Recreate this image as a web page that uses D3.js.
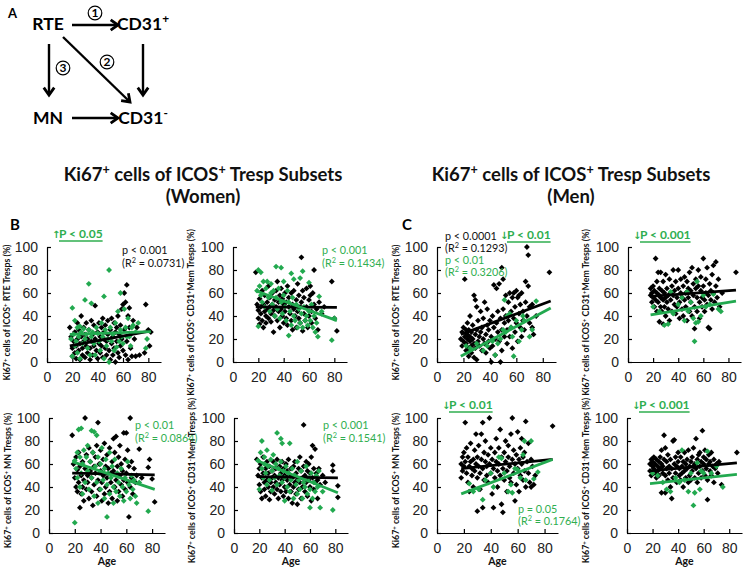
<!DOCTYPE html>
<html><head><meta charset="utf-8">
<script src="https://cdn.jsdelivr.net/npm/d3@7"></script>
<style>body{margin:0;background:#fff}</style>
</head><body>
<svg id="fig" width="749" height="573" xmlns="http://www.w3.org/2000/svg"></svg>
<script>
// ---------- tick labels / domains ----------
const yTicks = [0, 20, 40, 60, 80, 100];
const xTicks = [0, 20, 40, 60, 80];
const xDomain = [0, 90];
const yDomain = [0, 100];

// ---------- Women: RTE ----------
const wRTEBlack = [[18,30],[19,22],[20,12],[20,5],[21,18],[22,26],[22,8],[23,14],[23,3],[24,20],[24,34],[25,10],[25,28],[26,16],[26,2],[27,40],[27,22],[28,12],[28,6],[29,30],[29,18],[30,24],[30,4],[31,14],[31,34],[32,8],[32,20],[33,28],[34,12],[34,2],[35,36],[35,18],[36,24],[36,6],[37,32],[37,14],[38,49],[38,20],[39,10],[40,26],[40,3],[41,16],[41,34],[42,22],[42,8],[43,30],[43,14],[44,38],[44,4],[45,20],[45,26],[46,12],[46,32],[47,6],[47,18],[48,36],[48,24],[49,10],[50,28],[50,2],[51,16],[51,38],[52,22],[52,6],[53,34],[53,12],[54,0],[54,26],[55,18],[55,30],[56,8],[56,40],[57,24],[57,4],[58,14],[58,32],[59,20],[59,46],[60,50],[60,10],[61,60],[61,28],[62,52],[62,6],[63,67],[63,18],[64,40],[64,2],[65,47],[65,30],[66,12],[66,24],[67,5],[68,36],[69,20],[70,5],[71,30],[73,6],[77,8],[78,50],[80,28],[81,14],[82,26]];
const wRTEGreen = [[19,20],[20,47],[20,5],[21,24],[22,36],[22,14],[23,18],[24,30],[24,8],[25,22],[26,31],[26,3],[27,26],[28,16],[29,29],[30,54],[30,20],[31,24],[32,12],[33,68],[33,28],[34,6],[35,51],[35,22],[36,26],[37,16],[38,6],[39,30],[40,25],[41,18],[42,10],[43,34],[44,22],[45,57],[45,3],[46,28],[47,14],[48,20],[49,80],[49,0],[50,30],[51,18],[52,24],[53,10],[54,34],[55,13],[56,44],[57,18],[58,60],[58,28],[59,22],[60,16],[61,46],[62,30],[63,22],[64,38],[65,22],[66,14],[67,30],[68,32],[70,26],[72,34],[78,12],[79,20]];
const wRTEFitBlack = [[18,14],[82,27]];
const wRTEFitGreen = [[18,24],[82,26.5]];

// ---------- Women: CD31+ Mem ----------
const wCDpBlack = [[18,78],[19,50],[20,45],[20,38],[21,55],[21,33],[22,48],[22,42],[23,36],[23,62],[24,50],[24,30],[25,44],[25,58],[26,40],[26,34],[27,52],[27,46],[28,38],[28,66],[29,48],[29,56],[30,42],[30,35],[31,60],[31,50],[32,26],[32,45],[33,54],[33,40],[34,48],[34,62],[35,36],[35,70],[36,52],[36,44],[37,58],[37,30],[38,46],[38,64],[39,40],[39,55],[40,50],[40,34],[41,60],[41,44],[42,38],[42,52],[43,66],[43,32],[44,48],[44,56],[45,42],[46,60],[46,36],[47,50],[47,28],[48,46],[48,62],[49,40],[50,54],[50,30],[51,44],[51,68],[52,38],[52,58],[53,48],[53,34],[54,91],[54,52],[55,27],[55,62],[56,42],[56,56],[57,36],[58,64],[58,48],[59,30],[60,54],[60,40],[61,58],[61,66],[62,44],[62,34],[63,60],[64,80],[64,50],[65,38],[66,46],[67,28],[68,52],[70,42],[72,48],[78,70],[80,38],[82,27]];
const wCDpGreen = [[19,62],[20,80],[20,31],[21,66],[22,78],[22,58],[23,52],[24,70],[25,48],[26,64],[27,70],[28,56],[29,44],[30,68],[30,60],[31,50],[32,62],[33,40],[34,83],[34,56],[35,46],[36,64],[37,38],[38,82],[38,52],[39,42],[40,70],[40,58],[41,48],[42,36],[43,62],[44,23],[44,52],[45,44],[46,77],[46,32],[47,56],[48,72],[48,40],[49,36],[50,50],[51,30],[52,46],[53,73],[53,34],[54,42],[55,79],[55,30],[56,48],[57,36],[58,40],[59,32],[60,69],[60,44],[61,36],[62,50],[63,30],[64,40],[65,26],[66,34],[67,22],[68,57],[70,44],[78,19],[80,38]];
const wCDpFitBlack = [[18,48],[82,47.5]];
const wCDpFitGreen = [[18,62],[82,36]];

// ---------- Women: MN ----------
const wMNBlack = [[18,85],[19,60],[20,48],[21,66],[21,40],[22,55],[22,36],[23,70],[23,44],[24,22],[24,58],[25,50],[25,34],[26,62],[26,40],[27,46],[27,28],[28,100],[28,56],[29,38],[29,68],[30,50],[30,44],[31,74],[31,30],[32,54],[32,62],[33,36],[33,48],[34,70],[34,24],[35,58],[35,42],[36,66],[36,52],[37,32],[37,76],[38,96],[38,46],[39,60],[39,38],[40,72],[40,54],[41,44],[41,28],[42,64],[42,50],[43,34],[43,78],[44,58],[44,40],[45,48],[45,68],[46,26],[46,56],[47,74],[47,36],[48,52],[48,44],[49,62],[49,30],[50,82],[50,54],[51,40],[51,70],[52,84],[52,46],[53,58],[53,28],[54,66],[54,36],[55,50],[55,76],[56,42],[56,60],[57,32],[57,54],[58,87],[58,46],[59,64],[59,38],[60,87],[60,52],[61,44],[61,72],[62,14],[62,58],[63,100],[63,40],[64,62],[64,48],[65,34],[66,56],[67,44],[68,50],[70,73],[72,48],[77,57],[78,64],[80,47],[82,27]];
const wMNGreen = [[20,9],[20,63],[21,56],[22,70],[22,48],[23,90],[24,66],[24,40],[25,91],[25,52],[26,60],[26,34],[27,72],[28,44],[29,66],[30,54],[30,76],[31,38],[32,62],[33,89],[33,48],[34,70],[35,88],[35,32],[36,58],[37,85],[37,44],[38,66],[38,26],[39,52],[40,60],[40,38],[41,74],[42,46],[43,56],[43,30],[44,64],[45,14],[45,42],[46,52],[47,70],[47,34],[48,48],[49,58],[50,40],[50,26],[51,64],[52,36],[53,52],[54,44],[55,32],[56,56],[57,40],[58,28],[59,48],[60,36],[61,62],[62,42],[63,30],[64,50],[65,38],[66,46],[67,32],[68,26],[70,44],[77,19]];
const wMNFitBlack = [[18,52],[82,50.5]];
const wMNFitGreen = [[18,62],[82,38]];

// ---------- Women: CD31- Mem ----------
const wCDmBlack = [[18,64],[19,50],[20,42],[20,56],[21,36],[21,60],[22,48],[22,30],[23,52],[23,66],[24,38],[24,44],[25,56],[25,32],[26,46],[26,62],[27,40],[27,52],[28,29],[28,58],[29,44],[29,36],[30,54],[30,48],[31,40],[31,62],[32,34],[32,50],[33,56],[33,44],[34,38],[34,64],[35,48],[35,30],[36,58],[36,42],[37,52],[37,36],[38,62],[38,46],[39,32],[39,56],[40,40],[40,50],[41,60],[41,36],[42,46],[42,54],[43,30],[43,64],[44,42],[44,50],[45,56],[45,36],[46,26],[46,48],[47,58],[47,40],[48,44],[48,62],[49,34],[49,52],[50,46],[50,25],[51,56],[51,38],[52,66],[52,44],[53,30],[53,54],[54,48],[54,40],[55,94],[55,58],[56,36],[56,50],[57,62],[57,44],[58,32],[58,54],[59,46],[59,60],[60,40],[60,52],[61,66],[61,28],[62,76],[62,48],[63,56],[63,38],[64,73],[64,44],[65,52],[66,30],[66,46],[67,56],[68,42],[70,50],[72,44],[78,59],[78,54],[82,41],[82,31]];
const wCDmGreen = [[19,63],[20,38],[21,70],[22,80],[22,56],[23,48],[24,66],[24,60],[25,52],[26,72],[26,42],[27,58],[28,46],[29,64],[30,37],[30,54],[31,68],[32,48],[33,60],[34,87],[34,42],[35,56],[36,50],[37,82],[37,62],[38,78],[38,44],[39,54],[40,28],[40,48],[41,58],[42,40],[43,52],[44,78],[44,36],[45,46],[46,56],[47,30],[48,50],[49,42],[50,62],[50,34],[51,46],[52,38],[53,54],[54,30],[55,44],[56,40],[57,58],[58,34],[59,48],[60,22],[60,38],[61,52],[62,30],[63,44],[64,36],[65,50],[66,40],[67,54],[68,22],[70,36],[78,20]];
const wCDmFitBlack = [[18,49],[82,48]];
const wCDmFitGreen = [[18,63],[82,35]];

// ---------- Men: RTE ----------
const mRTEBlack = [[18,20],[19,14],[19,26],[20,18],[20,30],[21,22],[21,72],[22,16],[22,28],[22,10],[23,24],[23,34],[23,20],[24,12],[24,28],[24,5],[25,22],[25,18],[25,40],[26,14],[26,26],[26,8],[27,20],[27,32],[28,16],[28,4],[28,58],[29,24],[29,54],[29,12],[30,28],[30,2],[30,48],[31,18],[31,36],[32,22],[32,14],[33,44],[33,26],[34,10],[34,30],[35,38],[35,20],[36,16],[36,52],[37,24],[37,8],[38,32],[38,46],[39,18],[39,28],[40,36],[40,12],[41,0],[41,22],[42,40],[42,14],[43,67],[43,30],[44,20],[44,6],[45,64],[45,34],[46,26],[46,44],[47,68],[47,18],[48,0],[48,38],[49,82],[49,28],[49,10],[50,72],[50,46],[51,22],[51,34],[52,58],[52,40],[53,16],[53,28],[54,52],[54,36],[55,60],[55,22],[56,44],[56,30],[57,56],[57,12],[58,60],[58,38],[59,26],[59,48],[60,62],[60,34],[61,56],[61,18],[62,58],[62,42],[63,30],[63,50],[64,60],[64,22],[65,44],[65,36],[66,28],[67,70],[67,52],[68,100],[68,40],[69,93],[69,66],[70,34],[70,48],[72,50],[72,30],[73,24],[75,40],[85,78]];
const mRTEGreen = [[22,14],[25,12],[30,16],[35,10],[38,14],[42,18],[44,6],[46,16],[48,20],[50,28],[51,54],[52,26],[53,40],[55,42],[56,30],[57,22],[58,5],[60,36],[62,18],[64,28],[65,40],[66,36],[70,22],[72,28],[75,53]];
const mRTEFitBlack = [[18,24],[86,53]];
const mRTEFitGreen = [[18,5],[86,47]];

// ---------- Men: CD31+ Mem ----------
const mCDpBlack = [[18,58],[18,64],[19,52],[19,60],[20,56],[20,66],[21,48],[21,62],[22,90],[22,54],[23,44],[23,60],[23,70],[24,52],[24,78],[25,35],[25,58],[25,64],[26,48],[26,56],[26,78],[27,62],[27,44],[28,33],[28,54],[28,70],[29,60],[29,48],[30,76],[30,56],[30,40],[31,64],[31,52],[32,58],[32,46],[33,72],[33,36],[34,60],[34,54],[35,66],[35,44],[36,58],[36,80],[37,50],[37,62],[38,42],[38,70],[39,56],[39,48],[40,64],[40,80],[41,52],[41,38],[42,60],[42,72],[43,46],[43,56],[44,66],[44,40],[45,54],[45,74],[46,60],[46,48],[47,70],[47,36],[48,56],[48,64],[49,44],[49,78],[50,52],[50,62],[51,82],[51,40],[52,58],[52,68],[53,29],[53,48],[54,64],[54,72],[55,56],[55,44],[56,66],[56,80],[57,52],[57,38],[58,62],[58,74],[59,48],[59,56],[60,90],[60,66],[61,54],[61,44],[62,72],[62,60],[63,50],[63,82],[64,30],[64,58],[65,29],[65,68],[66,54],[66,62],[67,76],[67,46],[68,60],[68,84],[69,52],[70,87],[70,66],[71,56],[72,72],[73,48],[75,60],[86,78]];
const mCDpGreen = [[20,48],[25,44],[29,32],[32,33],[34,61],[36,42],[40,50],[43,56],[45,36],[47,61],[48,44],[50,52],[52,38],[53,18],[54,34],[55,70],[56,35],[58,40],[60,58],[62,48],[65,50],[68,59],[72,46],[74,44]];
const mCDpFitBlack = [[18,57],[86,62.5]];
const mCDpFitGreen = [[18,41],[86,53]];

// ---------- Men: MN ----------
const mMNBlack = [[18,60],[18,48],[19,66],[19,54],[20,70],[20,58],[21,96],[21,62],[22,52],[22,74],[23,44],[23,66],[24,58],[24,36],[25,62],[25,78],[26,50],[26,56],[27,64],[27,40],[28,72],[28,54],[29,86],[29,60],[30,19],[30,48],[30,66],[31,58],[31,76],[32,52],[32,38],[33,64],[33,86],[34,96],[34,22],[34,56],[35,70],[35,46],[36,62],[36,80],[37,50],[37,58],[38,44],[38,68],[39,100],[39,60],[40,74],[40,52],[41,34],[41,64],[42,22],[42,56],[43,70],[43,48],[44,62],[44,82],[45,54],[45,40],[46,74],[46,60],[47,90],[47,50],[48,25],[48,66],[49,18],[49,56],[50,70],[50,46],[51,62],[51,80],[52,54],[52,36],[53,66],[53,76],[54,48],[54,58],[55,86],[55,44],[56,100],[56,64],[57,52],[57,72],[58,28],[58,60],[59,68],[59,42],[60,56],[60,88],[61,64],[61,36],[62,74],[62,50],[63,60],[63,82],[64,46],[64,66],[65,70],[65,54],[66,97],[66,40],[67,62],[68,78],[68,52],[69,44],[70,40],[70,64],[71,58],[72,42],[73,50],[86,93]];
const mMNGreen = [[24,43],[27,36],[31,38],[34,29],[36,46],[40,52],[42,40],[46,66],[48,65],[50,52],[53,36],[55,42],[56,35],[58,56],[60,55],[62,48],[64,68],[65,80],[66,46],[70,80],[72,47],[75,53]];
const mMNFitBlack = [[18,56],[86,64]];
const mMNFitGreen = [[18,34],[86,64]];

// ---------- Men: CD31- Mem ----------
const mCDmBlack = [[18,60],[18,54],[19,64],[19,50],[20,58],[20,62],[21,56],[21,66],[22,52],[22,60],[23,64],[23,48],[24,58],[24,54],[25,62],[25,50],[26,56],[26,66],[27,35],[27,60],[27,72],[28,52],[28,58],[29,85],[29,64],[30,35],[30,50],[30,74],[31,56],[31,62],[32,46],[32,68],[33,58],[33,52],[34,40],[34,64],[35,30],[35,56],[36,80],[36,48],[37,81],[37,60],[38,66],[38,52],[39,44],[39,58],[40,62],[40,70],[41,50],[41,56],[42,66],[42,46],[43,58],[43,52],[44,40],[44,62],[45,54],[45,70],[46,48],[46,60],[47,56],[47,64],[48,44],[48,72],[49,58],[49,50],[50,62],[50,46],[51,66],[51,54],[52,58],[52,74],[53,48],[53,60],[54,82],[54,56],[55,64],[55,44],[56,52],[56,68],[57,58],[57,70],[58,48],[58,62],[59,89],[59,54],[60,66],[60,60],[61,50],[61,72],[62,56],[62,64],[63,29],[63,46],[64,60],[64,68],[65,54],[65,62],[66,50],[66,70],[67,58],[68,44],[68,64],[69,56],[70,60],[71,52],[72,62],[74,42],[86,70]];
const mCDmGreen = [[20,52],[24,50],[28,44],[31,38],[34,36],[38,48],[41,44],[43,72],[45,46],[48,36],[50,52],[52,24],[53,35],[55,61],[57,38],[58,54],[60,52],[63,71],[66,52],[70,58],[75,40]];
const mCDmFitBlack = [[18,54],[86,61]];
const mCDmFitGreen = [[18,43],[86,51]];

// ---------- style ----------
const GREEN = "#22a94f";
const GREEN_T = "#2fae4f";
const FC = "Lato, 'Open Sans', sans-serif";
const FA = "'Liberation Sans', Arial, sans-serif";
const svg = d3.select('#fig');

function rich(sel, str) {
  str.split(/(\^[+\-2])/).forEach(p => {
    if (!p) return;
    if (p[0] === '^') {
      sel.append('tspan').attr('baseline-shift', 'super').attr('font-size', '68%')
        .text(p[1] === '-' ? '-' : p[1]);
    } else sel.append('tspan').text(p);
  });
  return sel;
}

// ---------- Panel A diagram ----------
const A = svg.append('g');
A.append('text').attr('x', 8).attr('y', 18).attr('font-family', FC).attr('font-weight', 700)
  .attr('font-size', 13).text('A');
const nodes = [
  {t: 'RTE', x: 48, y: 30}, {t: 'CD31^+', x: 143, y: 30},
  {t: 'MN', x: 48, y: 124}, {t: 'CD31^-', x: 143, y: 124}
];
nodes.forEach(n => rich(A.append('text').attr('x', n.x).attr('y', n.y).attr('text-anchor', 'middle')
  .attr('font-family', FC).attr('font-weight', 700).attr('font-size', 17.5), n.t));
function arrow(x1, y1, x2, y2) {
  A.append('line').attr('x1', x1).attr('y1', y1).attr('x2', x2).attr('y2', y2)
    .attr('stroke', '#000').attr('stroke-width', 2.4);
  const ang = Math.atan2(y2 - y1, x2 - x1), L = 9, w = 0.62;
  const pts = [[x2 - L * Math.cos(ang - w), y2 - L * Math.sin(ang - w)], [x2, y2],
               [x2 - L * Math.cos(ang + w), y2 - L * Math.sin(ang + w)]];
  A.append('path').attr('d', d3.line()(pts)).attr('fill', 'none').attr('stroke', '#000')
    .attr('stroke-width', 2.8).attr('stroke-linejoin', 'miter');
}
arrow(72, 25, 118, 25);
arrow(49, 44, 49, 95);
arrow(63, 37, 130, 102);
arrow(143, 44, 143, 95);
arrow(72, 118, 118, 118);
[[95, 13, '1'], [107, 62, '2'], [63, 68, '3']].forEach(c => {
  A.append('circle').attr('cx', c[0]).attr('cy', c[1]).attr('r', 6.8).attr('fill', '#fff')
    .attr('stroke', '#000').attr('stroke-width', 1.2);
  A.append('text').attr('x', c[0]).attr('y', c[1] + 4.3).attr('text-anchor', 'middle')
    .attr('font-family', FC).attr('font-weight', 700).attr('font-size', 12).text(c[2]);
});

// ---------- titles ----------
[[203, 'Women'], [571, 'Men']].forEach(t => {
  const g = svg.append('g').attr('font-family', FC).attr('font-weight', 700)
    .attr('font-size', 18.5).attr('text-anchor', 'middle').attr('fill', '#111');
  rich(g.append('text').attr('x', t[0]).attr('y', 181), 'Ki67^+ cells of ICOS^+ Tresp Subsets');
  g.append('text').attr('x', t[0]).attr('y', 203).text('(' + t[1] + ')');
});
svg.append('text').attr('x', 10).attr('y', 230).attr('font-family', FC).attr('font-weight', 700)
  .attr('font-size', 15).text('B');
svg.append('text').attr('x', 402).attr('y', 230).attr('font-family', FC).attr('font-weight', 700)
  .attr('font-size', 15).text('C');

// ---------- scatter panels ----------
const panels = [
  {x0: 47, x1: 161, y0: 362, y1: 247, labX: 6, lab: 'RTE Tresps (%)', blk: wRTEBlack, grn: wRTEGreen, fb: wRTEFitBlack, fg: wRTEFitGreen, age: false,
   notes: [{x: 122, y: 254, t: 'p < 0.001', c: '#111'}, {x: 122, y: 267, t: '(R^2 = 0.0731)', c: '#111'}],
   sig: {x: 52, y: 238, t: 'P < 0.05', up: true}},
  {x0: 233, x1: 347, y0: 362, y1: 247, labX: 190, lab: 'CD31^+Mem Tresps (%)', blk: wCDpBlack, grn: wCDpGreen, fb: wCDpFitBlack, fg: wCDpFitGreen, age: false,
   notes: [{x: 322, y: 254, t: 'p < 0.001', c: GREEN_T}, {x: 322, y: 267, t: '(R^2 = 0.1434)', c: GREEN_T}]},
  {x0: 49, x1: 165, y0: 533, y1: 418, labX: 7, lab: 'MN Tresps (%)', blk: wMNBlack, grn: wMNGreen, fb: wMNFitBlack, fg: wMNFitGreen, age: true,
   notes: [{x: 135, y: 429, t: 'p < 0.01', c: GREEN_T}, {x: 135, y: 442, t: '(R^2 = 0.0864)', c: GREEN_T}]},
  {x0: 234, x1: 348, y0: 533, y1: 418, labX: 191, lab: 'CD31^-Mem Tresps (%)', blk: wCDmBlack, grn: wCDmGreen, fb: wCDmFitBlack, fg: wCDmFitGreen, age: true,
   notes: [{x: 323, y: 429, t: 'p < 0.001', c: GREEN_T}, {x: 323, y: 442, t: '(R^2 = 0.1541)', c: GREEN_T}]},
  {x0: 437, x1: 556, y0: 362, y1: 247, labX: 395, lab: 'RTE Tresps (%)', blk: mRTEBlack, grn: mRTEGreen, fb: mRTEFitBlack, fg: mRTEFitGreen, age: false,
   notes: [{x: 445, y: 240, t: 'p < 0.0001', c: '#111'}, {x: 445, y: 252, t: '(R^2 = 0.1293)', c: '#111'},
           {x: 445, y: 264, t: 'p < 0.01', c: GREEN_T}, {x: 445, y: 276, t: '(R^2 = 0.3206)', c: GREEN_T}],
   sig: {x: 500, y: 239, t: 'P < 0.01', up: false}},
  {x0: 628, x1: 741, y0: 362, y1: 247, labX: 585, lab: 'CD31^+Mem Tresps (%)', blk: mCDpBlack, grn: mCDpGreen, fb: mCDpFitBlack, fg: mCDpFitGreen, age: false,
   notes: [], sig: {x: 633, y: 239, t: 'P < 0.001', up: false}},
  {x0: 437, x1: 558, y0: 533, y1: 418, labX: 395, lab: 'MN Tresps (%)', blk: mMNBlack, grn: mMNGreen, fb: mMNFitBlack, fg: mMNFitGreen, age: true,
   notes: [{x: 518, y: 513, t: 'p = 0.05', c: GREEN_T}, {x: 518, y: 525, t: '(R^2 = 0.1764)', c: GREEN_T}],
   sig: {x: 442, y: 409, t: 'P < 0.01', up: false}},
  {x0: 627, x1: 742, y0: 533, y1: 418, labX: 585, lab: 'CD31^-Mem Tresps (%)', blk: mCDmBlack, grn: mCDmGreen, fb: mCDmFitBlack, fg: mCDmFitGreen, age: true,
   notes: [], sig: {x: 632, y: 409, t: 'P < 0.001', up: false}}
];

const diamond = d3.symbol().type(d3.symbolSquare).size(17);

panels.forEach(p => {
  const x = d3.scaleLinear().domain(xDomain).range([p.x0, p.x1]);
  const y = d3.scaleLinear().domain(yDomain).range([p.y0, p.y1]);
  const g = svg.append('g');

  // axes
  const gx = g.append('g').attr('transform', `translate(0,${p.y0})`)
    .call(d3.axisBottom(x).tickValues(xTicks).tickSizeInner(-4).tickSizeOuter(0).tickPadding(10));
  const gy = g.append('g').attr('transform', `translate(${p.x0},0)`)
    .call(d3.axisLeft(y).tickValues(yTicks).tickSizeInner(-4).tickSizeOuter(0).tickPadding(9));
  [gx, gy].forEach(a => {
    a.attr('font-family', FA).attr('font-size', 14);
    a.selectAll('path,line').attr('stroke', '#000').attr('stroke-width', 1.2);
    a.selectAll('text').attr('fill', '#222');
  });

  // points
  g.append('g').selectAll('path').data(p.blk).join('path').attr('d', diamond)
    .attr('transform', d => `translate(${x(d[0])},${y(d[1])}) rotate(45)`).attr('fill', '#000');
  g.append('g').selectAll('path').data(p.grn).join('path').attr('d', diamond)
    .attr('transform', d => `translate(${x(d[0])},${y(d[1])}) rotate(45)`).attr('fill', GREEN);

  // fit lines
  const line = d3.line().x(d => x(d[0])).y(d => y(d[1]));
  g.append('path').attr('d', line(p.fb)).attr('stroke', '#000').attr('stroke-width', 2.8).attr('fill', 'none');
  g.append('path').attr('d', line(p.fg)).attr('stroke', GREEN).attr('stroke-width', 2.8).attr('fill', 'none');

  // y label
  const cy = (p.y0 + p.y1) / 2 + (p.age ? 5 : 8);
  rich(g.append('text').attr('transform', `translate(${p.labX + 4},${cy}) rotate(-90)`)
    .attr('text-anchor', 'middle').attr('font-family', FC).attr('font-weight', 700)
    .attr('font-size', 8.8).attr('fill', '#111'), 'Ki67^+ cells of ICOS^+ ' + p.lab);

  if (p.age) g.append('text').attr('x', (p.x0 + p.x1) / 2).attr('y', p.y0 + 32)
    .attr('text-anchor', 'middle').attr('font-family', FC).attr('font-weight', 700)
    .attr('font-size', 10.5).attr('fill', '#111').text('Age');

  p.notes.forEach(n => rich(g.append('text').attr('x', n.x).attr('y', n.y).attr('font-family', FC)
    .attr('font-size', 10.8).attr('fill', n.c), n.t));

  if (p.sig) {
    const s = p.sig;
    g.append('text').attr('x', s.x).attr('y', s.y).attr('font-family', "'DejaVu Sans', sans-serif")
      .attr('font-size', 10).attr('font-weight', 700).attr('fill', GREEN_T).text(s.up ? '↑' : '↓');
    const t = g.append('text').attr('x', s.x + 7).attr('y', s.y).attr('font-family', FC)
      .attr('font-weight', 700).attr('font-size', 12).attr('fill', GREEN_T).text(s.t);
    const w = t.node().getComputedTextLength();
    g.append('line').attr('x1', s.x + 7).attr('x2', s.x + 7 + w).attr('y1', s.y + 3).attr('y2', s.y + 3)
      .attr('stroke', GREEN_T).attr('stroke-width', 1.3);
  }
});
</script>
</body></html>
